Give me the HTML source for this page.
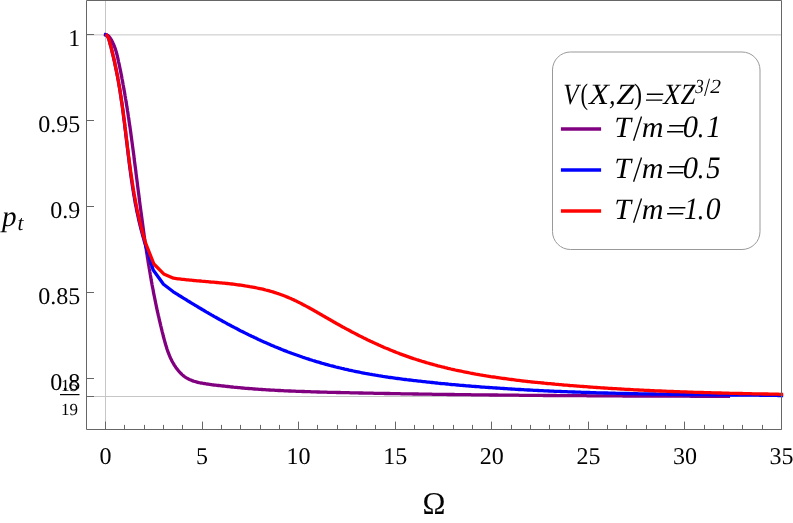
<!DOCTYPE html>
<html><head><meta charset="utf-8"><title>chart</title>
<style>html,body{margin:0;padding:0;background:#fff;}svg{display:block;}text{font-family:"Liberation Serif",serif;fill:#000;text-rendering:geometricPrecision;}.it{font-style:italic;}</style></head><body>
<svg width="793" height="523" viewBox="0 0 793 523">
<rect x="0" y="0" width="793" height="523" fill="#fff"/>
<g>
<g stroke="#c6c6c6" stroke-width="1" fill="none">
<line x1="86.5" x2="781.5" y1="34.9" y2="34.9"/>
<line x1="86.5" x2="781.5" y1="396.5" y2="396.5"/>
<line x1="105.5" x2="105.5" y1="0.5" y2="429.5"/>
</g>
<g fill="none" stroke-width="3.3" stroke-linejoin="round" stroke-linecap="square">
<path stroke="#800080" d="M105.6,34.6 L107.0,35.1 L108.3,35.8 L109.3,36.9 L110.2,38.1 L111.0,39.4 L111.8,40.7 L112.5,42.0 L113.1,43.4 L113.7,44.7 L114.3,46.1 L114.8,47.5 L115.3,48.9 L115.8,50.4 L116.2,51.8 L116.6,53.2 L117.0,54.7 L117.3,56.2 L117.7,57.6 L118.0,59.1 L118.3,60.6 L118.6,62.1 L119.0,63.5 L119.3,65.0 L119.6,66.5 L119.9,68.0 L120.2,69.4 L120.5,70.9 L120.8,72.4 L121.1,73.9 L121.4,75.3 L121.7,76.8 L121.9,78.3 L122.2,79.8 L122.5,81.2 L122.8,82.7 L123.0,84.2 L123.3,85.7 L123.6,87.1 L123.8,88.6 L124.1,90.1 L124.4,91.6 L124.6,93.1 L124.9,94.5 L125.1,96.0 L125.4,97.5 L125.6,99.0 L125.9,100.5 L126.1,101.9 L126.4,103.4 L126.6,104.9 L126.8,106.4 L127.1,107.8 L127.3,109.3 L127.5,110.8 L127.8,112.3 L128.0,113.8 L128.2,115.2 L128.4,116.7 L128.7,118.2 L128.9,119.7 L129.1,121.2 L129.3,122.7 L129.5,124.1 L129.7,125.6 L130.0,127.1 L130.2,128.6 L130.4,130.1 L130.6,131.5 L130.8,133.0 L131.0,134.5 L131.2,136.0 L131.4,137.5 L131.6,139.0 L131.8,140.4 L132.0,141.9 L132.2,143.4 L132.4,144.9 L132.6,146.4 L132.8,147.9 L133.0,149.4 L133.2,150.8 L133.4,152.3 L133.6,153.8 L133.8,155.3 L134.0,156.8 L134.1,158.3 L134.3,159.8 L134.5,161.2 L134.7,162.7 L134.9,164.2 L135.1,165.7 L135.3,167.2 L135.5,168.7 L135.7,170.2 L135.9,171.7 L136.0,173.1 L136.2,174.6 L136.4,176.1 L136.6,177.6 L136.8,179.1 L137.0,180.6 L137.2,182.1 L137.4,183.6 L137.5,185.1 L137.7,186.5 L137.9,188.0 L138.1,189.5 L138.3,191.0 L138.5,192.5 L138.7,194.0 L138.9,195.5 L139.1,197.0 L139.2,198.5 L139.4,199.9 L139.6,201.4 L139.8,202.9 L140.0,204.4 L140.2,205.9 L140.4,207.4 L140.6,208.9 L140.8,210.4 L141.0,211.9 L141.2,213.3 L141.4,214.8 L141.6,216.3 L141.8,217.8 L142.0,219.3 L142.2,220.8 L142.4,222.3 L142.6,223.8 L142.8,225.3 L143.0,226.7 L143.2,228.2 L143.4,229.7 L143.6,231.2 L143.8,232.7 L144.0,234.2 L144.2,235.7 L144.4,237.1 L144.6,238.6 L144.8,240.1 L145.1,241.6 L145.3,243.1 L145.5,244.6 L145.7,246.1 L145.9,247.5 L146.2,249.0 L146.4,250.5 L146.6,252.0 L146.8,253.5 L147.1,255.0 L147.3,256.4 L147.5,257.9 L147.8,259.4 L148.0,260.9 L148.2,262.4 L148.5,263.9 L148.7,265.3 L149.0,266.8 L149.2,268.3 L149.5,269.8 L149.7,271.2 L150.0,272.7 L150.2,274.2 L150.5,275.7 L150.7,277.2 L151.0,278.6 L151.2,280.1 L151.5,281.6 L151.8,283.1 L152.0,284.5 L152.3,286.0 L152.6,287.5 L152.9,289.0 L153.2,290.4 L153.4,291.9 L153.7,293.4 L154.0,294.8 L154.3,296.3 L154.6,297.8 L154.9,299.3 L155.2,300.7 L155.5,302.2 L155.8,303.7 L156.1,305.1 L156.4,306.6 L156.7,308.1 L157.0,309.5 L157.3,311.0 L157.7,312.5 L158.0,313.9 L158.3,315.4 L158.7,316.8 L159.0,318.3 L159.3,319.8 L159.7,321.2 L160.0,322.7 L160.4,324.1 L160.7,325.6 L161.1,327.1 L161.4,328.5 L161.8,330.0 L162.1,331.4 L162.5,332.9 L162.9,334.3 L163.2,335.8 L163.6,337.2 L164.0,338.7 L164.4,340.1 L164.8,341.6 L165.2,343.0 L165.6,344.5 L166.0,345.9 L166.5,347.3 L166.9,348.8 L167.4,350.2 L167.9,351.6 L168.4,353.0 L169.0,354.4 L169.5,355.8 L170.1,357.1 L170.7,358.5 L171.4,359.8 L172.1,361.2 L172.8,362.5 L173.6,363.8 L174.3,365.1 L175.2,366.4 L176.0,367.7 L177.0,368.9 L177.9,370.1 L178.9,371.3 L179.9,372.4 L181.0,373.5 L182.1,374.6 L183.2,375.6 L184.4,376.5 L185.6,377.3 L186.9,378.1 L188.1,378.8 L189.4,379.4 L190.8,380.0 L192.1,380.6 L193.5,381.1 L194.9,381.5 L196.3,381.9 L197.7,382.3 L199.2,382.7 L200.6,383.0 L202.1,383.2 L203.6,383.5 L205.1,383.7 L206.6,384.0 L208.1,384.2 L209.6,384.4 L211.1,384.6 L212.6,384.8 L214.1,385.0 L215.6,385.1 L217.1,385.3 L218.6,385.5 L220.1,385.7 L221.6,385.9 L223.1,386.0 L224.6,386.2 L226.1,386.4 L227.6,386.5 L229.1,386.7 L230.6,386.9 L232.1,387.0 L233.6,387.2 L235.1,387.3 L236.6,387.4 L238.1,387.6 L239.6,387.7 L241.1,387.9 L242.5,388.0 L244.0,388.1 L245.5,388.3 L247.0,388.4 L248.5,388.5 L250.0,388.6 L251.5,388.7 L253.0,388.9 L254.5,389.0 L256.0,389.1 L257.5,389.2 L259.0,389.3 L260.5,389.4 L262.0,389.5 L263.5,389.6 L265.0,389.7 L266.5,389.8 L268.0,389.9 L269.5,390.0 L271.0,390.1 L272.5,390.1 L274.0,390.2 L275.5,390.3 L277.0,390.4 L278.5,390.5 L280.0,390.5 L281.5,390.6 L283.0,390.7 L284.5,390.8 L286.0,390.8 L287.5,390.9 L289.0,391.0 L290.5,391.0 L292.0,391.1 L293.5,391.2 L295.0,391.2 L296.5,391.3 L298.0,391.3 L299.5,391.4 L300.9,391.4 L302.4,391.5 L303.9,391.5 L305.4,391.6 L306.9,391.7 L308.4,391.7 L309.9,391.7 L311.4,391.8 L312.9,391.8 L314.4,391.9 L315.9,391.9 L317.4,392.0 L318.9,392.0 L320.4,392.1 L321.9,392.1 L323.4,392.1 L324.9,392.2 L326.4,392.2 L327.9,392.3 L329.4,392.3 L330.9,392.3 L332.4,392.4 L333.9,392.4 L335.4,392.4 L336.9,392.5 L338.4,392.5 L339.9,392.5 L341.4,392.6 L342.9,392.6 L344.4,392.6 L345.9,392.7 L347.4,392.7 L348.9,392.7 L350.4,392.8 L351.9,392.8 L353.4,392.8 L354.9,392.9 L356.4,392.9 L357.9,392.9 L359.3,393.0 L360.8,393.0 L362.3,393.0 L363.8,393.1 L365.3,393.1 L366.8,393.1 L368.3,393.1 L369.8,393.2 L371.3,393.2 L372.8,393.2 L374.3,393.3 L375.8,393.3 L377.3,393.3 L378.8,393.4 L380.3,393.4 L381.8,393.4 L383.3,393.4 L384.8,393.5 L386.3,393.5 L387.8,393.5 L389.3,393.5 L390.8,393.6 L392.3,393.6 L393.8,393.6 L395.3,393.7 L396.8,393.7 L398.3,393.7 L399.8,393.7 L401.3,393.8 L402.8,393.8 L404.3,393.8 L405.8,393.8 L407.3,393.9 L408.8,393.9 L410.3,393.9 L411.8,393.9 L413.3,394.0 L414.8,394.0 L416.3,394.0 L417.8,394.0 L419.3,394.1 L420.8,394.1 L422.3,394.1 L423.8,394.1 L425.3,394.1 L426.8,394.2 L428.3,394.2 L429.8,394.2 L431.3,394.2 L432.8,394.3 L434.3,394.3 L435.8,394.3 L437.3,394.3 L438.8,394.3 L440.3,394.4 L441.8,394.4 L443.3,394.4 L444.8,394.4 L446.3,394.4 L447.8,394.5 L449.3,394.5 L450.8,394.5 L452.3,394.5 L453.8,394.5 L455.3,394.6 L456.8,394.6 L458.3,394.6 L459.8,394.6 L461.3,394.6 L462.8,394.7 L464.3,394.7 L465.8,394.7 L467.3,394.7 L468.8,394.7 L470.3,394.7 L471.8,394.8 L473.3,394.8 L474.8,394.8 L476.3,394.8 L477.8,394.8 L479.3,394.9 L480.8,394.9 L482.3,394.9 L483.8,394.9 L485.3,394.9 L486.8,394.9 L488.3,394.9 L489.8,395.0 L491.3,395.0 L492.8,395.0 L494.3,395.0 L495.8,395.0 L497.3,395.0 L498.8,395.1 L500.3,395.1 L501.8,395.1 L503.3,395.1 L504.8,395.1 L506.3,395.1 L507.8,395.1 L509.3,395.2 L510.8,395.2 L512.3,395.2 L513.8,395.2 L515.3,395.2 L516.8,395.2 L518.3,395.2 L519.8,395.3 L521.3,395.3 L522.8,395.3 L524.3,395.3 L525.8,395.3 L527.3,395.3 L528.8,395.3 L530.3,395.3 L531.8,395.4 L533.3,395.4 L534.8,395.4 L536.3,395.4 L537.8,395.4 L539.3,395.4 L540.8,395.4 L542.3,395.4 L543.8,395.5 L545.3,395.5 L546.8,395.5 L548.3,395.5 L549.8,395.5 L551.3,395.5 L552.8,395.5 L554.3,395.5 L555.8,395.5 L557.3,395.6 L558.8,395.6 L560.3,395.6 L561.8,395.6 L563.3,395.6 L564.8,395.6 L566.3,395.6 L567.8,395.6 L569.3,395.6 L570.8,395.7 L572.4,395.7 L573.9,395.7 L575.4,395.7 L576.9,395.7 L578.4,395.7 L579.9,395.7 L581.4,395.7 L582.9,395.7 L584.4,395.7 L585.9,395.7 L587.4,395.8 L588.9,395.8 L590.4,395.8 L591.9,395.8 L593.4,395.8 L594.9,395.8 L596.4,395.8 L597.9,395.8 L599.4,395.8 L600.9,395.8 L602.4,395.8 L603.9,395.9 L605.4,395.9 L606.9,395.9 L608.4,395.9 L609.9,395.9 L611.4,395.9 L612.9,395.9 L614.4,395.9 L615.9,395.9 L617.4,395.9 L618.9,395.9 L620.4,395.9 L621.9,395.9 L623.4,396.0 L624.9,396.0 L626.4,396.0 L627.9,396.0 L629.4,396.0 L630.9,396.0 L632.4,396.0 L633.9,396.0 L635.4,396.0 L636.9,396.0 L638.4,396.0 L639.9,396.0 L641.4,396.0 L642.9,396.0 L644.4,396.1 L645.9,396.1 L647.4,396.1 L648.9,396.1 L650.4,396.1 L651.9,396.1 L653.4,396.1 L654.9,396.1 L656.4,396.1 L657.9,396.1 L659.4,396.1 L660.9,396.1 L662.4,396.1 L663.9,396.1 L665.4,396.1 L666.9,396.2 L668.4,396.2 L669.9,396.2 L671.4,396.2 L672.9,396.2 L674.4,396.2 L675.9,396.2 L677.4,396.2 L678.9,396.2 L680.4,396.2 L681.9,396.2 L683.4,396.2 L684.9,396.2 L686.4,396.2 L687.9,396.2 L689.4,396.2 L690.9,396.3 L692.4,396.3 L693.9,396.3 L695.4,396.3 L696.9,396.3 L698.4,396.3 L699.9,396.3 L701.4,396.3 L702.9,396.3 L704.4,396.3 L705.9,396.3 L707.4,396.3 L708.9,396.3 L710.4,396.3 L711.9,396.3 L713.4,396.3 L714.9,396.3 L716.4,396.4 L717.9,396.4 L719.4,396.4 L720.9,396.4 L722.3,396.4 L723.8,396.4 L725.3,396.4 L726.8,396.4 L728.3,396.4 L728.4,396.4"/>
<path stroke="#0000ff" d="M105.6,34.8 L106.4,34.8 L106.8,35.4 L107.7,36.6 L108.4,37.9 L108.9,39.3 L109.3,40.8 L109.7,42.2 L110.1,43.7 L110.5,45.2 L110.9,46.6 L111.3,48.1 L111.6,49.6 L112.0,51.0 L112.3,52.5 L112.7,54.0 L113.0,55.4 L113.4,56.9 L113.7,58.4 L114.0,59.8 L114.4,61.3 L114.7,62.7 L115.0,64.2 L115.3,65.7 L115.6,67.1 L115.9,68.6 L116.2,70.0 L116.5,71.5 L116.8,73.0 L117.1,74.4 L117.4,75.9 L117.7,77.4 L117.9,78.8 L118.2,80.3 L118.5,81.8 L118.7,83.2 L119.0,84.7 L119.2,86.2 L119.5,87.6 L119.7,89.1 L120.0,90.6 L120.2,92.1 L120.4,93.5 L120.6,95.0 L120.9,96.5 L121.1,98.0 L121.3,99.5 L121.5,100.9 L121.7,102.4 L122.0,103.9 L122.2,105.4 L122.4,106.9 L122.6,108.4 L122.8,109.8 L123.0,111.3 L123.2,112.8 L123.4,114.3 L123.5,115.8 L123.7,117.3 L123.9,118.8 L124.1,120.3 L124.3,121.7 L124.5,123.2 L124.7,124.7 L124.8,126.2 L125.0,127.7 L125.2,129.2 L125.4,130.7 L125.6,132.2 L125.7,133.7 L125.9,135.2 L126.1,136.7 L126.3,138.2 L126.4,139.7 L126.6,141.1 L126.8,142.6 L127.0,144.1 L127.2,145.6 L127.3,147.1 L127.5,148.6 L127.7,150.1 L127.9,151.6 L128.0,153.1 L128.2,154.6 L128.4,156.1 L128.6,157.6 L128.8,159.1 L129.0,160.6 L129.1,162.0 L129.3,163.5 L129.5,165.0 L129.7,166.5 L129.9,168.0 L130.1,169.5 L130.3,171.0 L130.5,172.5 L130.7,174.0 L130.9,175.5 L131.1,176.9 L131.3,178.4 L131.5,179.9 L131.8,181.4 L132.0,182.9 L132.2,184.4 L132.4,185.9 L132.7,187.3 L132.9,188.8 L133.1,190.3 L133.4,191.8 L133.6,193.3 L133.8,194.7 L134.1,196.2 L134.4,197.7 L134.6,199.2 L134.9,200.6 L135.1,202.1 L135.4,203.6 L135.7,205.1 L136.0,206.5 L136.3,208.0 L136.5,209.5 L136.8,210.9 L137.1,212.4 L137.5,213.9 L137.8,215.3 L138.1,216.8 L138.4,218.3 L138.7,219.7 L139.1,221.2 L139.4,222.6 L139.8,224.1 L140.1,225.6 L140.5,227.0 L140.8,228.5 L141.2,229.9 L141.6,231.4 L142.0,232.8 L142.4,234.3 L142.7,235.7 L143.2,237.1 L143.6,238.6 L144.0,240.0 L144.4,241.5 L144.8,242.9 L145.0,243.4 L153.2,270.0 L163.5,284.3 L173.3,291.8 L174.6,292.6 L175.8,293.4 L177.1,294.2 L178.4,295.0 L179.6,295.8 L180.9,296.5 L182.2,297.3 L183.4,298.1 L184.7,298.9 L186.0,299.7 L187.3,300.5 L188.5,301.3 L189.8,302.0 L191.1,302.8 L192.4,303.6 L193.7,304.4 L195.0,305.2 L196.2,305.9 L197.5,306.7 L198.8,307.5 L200.1,308.2 L201.4,309.0 L202.7,309.8 L204.0,310.5 L205.3,311.3 L206.6,312.1 L207.9,312.8 L209.2,313.6 L210.5,314.3 L211.8,315.1 L213.1,315.8 L214.4,316.6 L215.7,317.3 L217.0,318.0 L218.3,318.8 L219.6,319.5 L221.0,320.2 L222.3,321.0 L223.6,321.7 L224.9,322.4 L226.2,323.1 L227.5,323.9 L228.9,324.6 L230.2,325.3 L231.5,326.0 L232.9,326.7 L234.2,327.4 L235.5,328.1 L236.9,328.8 L238.2,329.5 L239.5,330.2 L240.9,330.9 L242.2,331.5 L243.6,332.2 L244.9,332.9 L246.2,333.6 L247.6,334.2 L248.9,334.9 L250.3,335.5 L251.6,336.2 L253.0,336.8 L254.4,337.5 L255.7,338.1 L257.1,338.8 L258.4,339.4 L259.8,340.0 L261.2,340.7 L262.5,341.3 L263.9,341.9 L265.3,342.5 L266.6,343.1 L268.0,343.7 L269.4,344.3 L270.8,344.9 L272.1,345.5 L273.5,346.1 L274.9,346.7 L276.3,347.2 L277.7,347.8 L279.1,348.4 L280.5,348.9 L281.8,349.5 L283.2,350.1 L284.6,350.6 L286.0,351.1 L287.4,351.7 L288.8,352.2 L290.2,352.7 L291.6,353.3 L293.0,353.8 L294.4,354.3 L295.8,354.8 L297.3,355.3 L298.7,355.8 L300.1,356.3 L301.5,356.8 L302.9,357.3 L304.3,357.7 L305.8,358.2 L307.2,358.7 L308.6,359.1 L310.0,359.6 L311.4,360.0 L312.9,360.5 L314.3,360.9 L315.7,361.4 L317.2,361.8 L318.6,362.2 L320.0,362.6 L321.5,363.1 L322.9,363.5 L324.4,363.9 L325.8,364.3 L327.2,364.7 L328.7,365.1 L330.1,365.5 L331.6,365.8 L333.0,366.2 L334.5,366.6 L335.9,367.0 L337.4,367.3 L338.8,367.7 L340.3,368.0 L341.7,368.4 L343.2,368.7 L344.6,369.1 L346.1,369.4 L347.6,369.7 L349.0,370.1 L350.5,370.4 L351.9,370.7 L353.4,371.0 L354.9,371.3 L356.3,371.6 L357.8,371.9 L359.3,372.2 L360.7,372.5 L362.2,372.8 L363.7,373.1 L365.2,373.4 L366.6,373.6 L368.1,373.9 L369.6,374.2 L371.0,374.4 L372.5,374.7 L374.0,374.9 L375.5,375.2 L377.0,375.4 L378.4,375.7 L379.9,375.9 L381.4,376.1 L382.9,376.4 L384.4,376.6 L385.8,376.8 L387.3,377.0 L388.8,377.3 L390.3,377.5 L391.8,377.7 L393.3,377.9 L394.8,378.1 L396.2,378.3 L397.7,378.5 L399.2,378.7 L400.7,378.9 L402.2,379.1 L403.7,379.3 L405.2,379.5 L406.7,379.7 L408.2,379.8 L409.6,380.0 L411.1,380.2 L412.6,380.4 L414.1,380.6 L415.6,380.7 L417.1,380.9 L418.6,381.1 L420.1,381.2 L421.6,381.4 L423.1,381.6 L424.6,381.7 L426.1,381.9 L427.5,382.1 L429.0,382.2 L430.5,382.4 L432.0,382.5 L433.5,382.7 L435.0,382.9 L436.5,383.0 L438.0,383.2 L439.5,383.3 L441.0,383.5 L442.5,383.6 L444.0,383.7 L445.5,383.9 L447.0,384.0 L448.5,384.2 L450.0,384.3 L451.4,384.5 L452.9,384.6 L454.4,384.7 L455.9,384.9 L457.4,385.0 L458.9,385.1 L460.4,385.3 L461.9,385.4 L463.4,385.5 L464.9,385.6 L466.4,385.8 L467.9,385.9 L469.4,386.0 L470.9,386.1 L472.4,386.3 L473.9,386.4 L475.4,386.5 L476.9,386.6 L478.4,386.7 L479.9,386.8 L481.3,387.0 L482.8,387.1 L484.3,387.2 L485.8,387.3 L487.3,387.4 L488.8,387.5 L490.3,387.6 L491.8,387.7 L493.3,387.8 L494.8,387.9 L496.3,388.0 L497.8,388.1 L499.3,388.2 L500.8,388.3 L502.3,388.4 L503.8,388.5 L505.3,388.6 L506.8,388.7 L508.3,388.8 L509.8,388.9 L511.3,389.0 L512.8,389.1 L514.3,389.2 L515.8,389.3 L517.3,389.4 L518.8,389.5 L520.3,389.5 L521.8,389.6 L523.3,389.7 L524.8,389.8 L526.3,389.9 L527.8,390.0 L529.3,390.0 L530.8,390.1 L532.2,390.2 L533.7,390.3 L535.2,390.3 L536.7,390.4 L538.2,390.5 L539.7,390.6 L541.2,390.6 L542.7,390.7 L544.2,390.8 L545.7,390.8 L547.2,390.9 L548.7,391.0 L550.2,391.1 L551.7,391.1 L553.2,391.2 L554.7,391.3 L556.2,391.3 L557.7,391.4 L559.2,391.4 L560.7,391.5 L562.2,391.6 L563.7,391.6 L565.2,391.7 L566.7,391.7 L568.2,391.8 L569.7,391.9 L571.2,391.9 L572.7,392.0 L574.2,392.0 L575.7,392.1 L577.2,392.1 L578.7,392.2 L580.2,392.2 L581.7,392.3 L583.2,392.3 L584.7,392.4 L586.2,392.4 L587.7,392.5 L589.2,392.5 L590.7,392.6 L592.2,392.6 L593.7,392.7 L595.2,392.7 L596.7,392.8 L598.2,392.8 L599.7,392.8 L601.2,392.9 L602.7,392.9 L604.2,393.0 L605.7,393.0 L607.2,393.0 L608.7,393.1 L610.2,393.1 L611.7,393.2 L613.2,393.2 L614.7,393.2 L616.2,393.3 L617.7,393.3 L619.2,393.3 L620.7,393.4 L622.2,393.4 L623.7,393.4 L625.2,393.5 L626.7,393.5 L628.2,393.5 L629.7,393.6 L631.2,393.6 L632.7,393.6 L634.2,393.7 L635.7,393.7 L637.2,393.7 L638.7,393.8 L640.2,393.8 L641.7,393.8 L643.2,393.8 L644.7,393.9 L646.2,393.9 L647.7,393.9 L649.2,393.9 L650.7,394.0 L652.2,394.0 L653.7,394.0 L655.2,394.0 L656.7,394.1 L658.2,394.1 L659.7,394.1 L661.2,394.1 L662.7,394.2 L664.2,394.2 L665.7,394.2 L667.2,394.2 L668.7,394.3 L670.2,394.3 L671.7,394.3 L673.2,394.3 L674.7,394.3 L676.2,394.4 L677.7,394.4 L679.2,394.4 L680.7,394.4 L682.2,394.4 L683.7,394.5 L685.2,394.5 L686.7,394.5 L688.2,394.5 L689.7,394.5 L691.2,394.5 L692.7,394.6 L694.2,394.6 L695.7,394.6 L697.2,394.6 L698.7,394.6 L700.2,394.6 L701.7,394.7 L703.2,394.7 L704.7,394.7 L706.2,394.7 L707.7,394.7 L709.2,394.7 L710.7,394.8 L712.2,394.8 L713.7,394.8 L715.2,394.8 L716.7,394.8 L718.2,394.8 L719.7,394.9 L721.2,394.9 L722.7,394.9 L724.2,394.9 L725.7,394.9 L727.2,394.9 L728.7,394.9 L730.2,395.0 L731.7,395.0 L733.2,395.0 L734.7,395.0 L736.2,395.0 L737.7,395.0 L739.2,395.0 L740.7,395.1 L742.2,395.1 L743.7,395.1 L745.2,395.1 L746.7,395.1 L748.2,395.1 L749.7,395.2 L751.2,395.2 L752.7,395.2 L754.2,395.2 L755.7,395.2 L757.2,395.2 L758.7,395.2 L760.2,395.3 L761.7,395.3 L763.2,395.3 L764.7,395.3 L766.2,395.3 L767.7,395.3 L769.2,395.4 L770.7,395.4 L772.2,395.4 L773.7,395.4 L775.2,395.4 L776.7,395.4 L778.2,395.5 L779.7,395.5 L781.2,395.5 L781.5,395.5"/>
<path stroke="#ff0000" d="M106.8,35.4 L107.7,36.6 L108.4,37.9 L108.9,39.3 L109.3,40.8 L109.7,42.2 L110.1,43.7 L110.5,45.2 L110.9,46.6 L111.3,48.1 L111.6,49.6 L112.0,51.0 L112.3,52.5 L112.7,54.0 L113.0,55.4 L113.4,56.9 L113.7,58.3 L114.1,59.8 L114.4,61.3 L114.7,62.7 L115.0,64.2 L115.3,65.6 L115.6,67.1 L115.9,68.6 L116.2,70.0 L116.5,71.5 L116.8,73.0 L117.1,74.4 L117.4,75.9 L117.7,77.3 L117.9,78.8 L118.2,80.3 L118.5,81.8 L118.7,83.2 L119.0,84.7 L119.2,86.2 L119.5,87.6 L119.7,89.1 L120.0,90.6 L120.2,92.1 L120.4,93.5 L120.7,95.0 L120.9,96.5 L121.1,98.0 L121.3,99.5 L121.5,100.9 L121.8,102.4 L122.0,103.9 L122.2,105.4 L122.4,106.9 L122.6,108.4 L122.8,109.8 L123.0,111.3 L123.2,112.8 L123.4,114.3 L123.6,115.8 L123.8,117.3 L124.0,118.8 L124.2,120.3 L124.4,121.7 L124.6,123.2 L124.8,124.7 L124.9,126.2 L125.1,127.7 L125.3,129.2 L125.5,130.7 L125.7,132.2 L125.9,133.7 L126.0,135.2 L126.2,136.7 L126.4,138.2 L126.6,139.6 L126.8,141.1 L127.0,142.6 L127.1,144.1 L127.3,145.6 L127.5,147.1 L127.7,148.6 L127.9,150.1 L128.1,151.6 L128.3,153.1 L128.4,154.6 L128.6,156.1 L128.8,157.5 L129.0,159.0 L129.2,160.5 L129.4,162.0 L129.6,163.5 L129.8,165.0 L130.0,166.5 L130.2,168.0 L130.4,169.5 L130.6,171.0 L130.8,172.4 L131.0,173.9 L131.2,175.4 L131.5,176.9 L131.7,178.4 L131.9,179.9 L132.1,181.4 L132.3,182.8 L132.6,184.3 L132.8,185.8 L133.0,187.3 L133.3,188.8 L133.5,190.2 L133.8,191.7 L134.0,193.2 L134.3,194.7 L134.5,196.2 L134.8,197.6 L135.1,199.1 L135.3,200.6 L135.6,202.1 L135.9,203.5 L136.2,205.0 L136.4,206.5 L136.7,207.9 L137.0,209.4 L137.3,210.9 L137.6,212.3 L138.0,213.8 L138.3,215.3 L138.6,216.7 L138.9,218.2 L139.3,219.6 L139.6,221.1 L140.0,222.6 L140.3,224.0 L140.7,225.5 L141.0,226.9 L141.4,228.4 L141.8,229.8 L142.2,231.3 L142.5,232.7 L142.9,234.1 L143.3,235.6 L143.8,237.0 L144.2,238.5 L144.6,239.9 L145.0,241.3 L145.5,242.8 L145.7,243.4 L153.9,264.0 L163.7,273.9 L173.5,278.2 L175.0,278.4 L176.4,278.6 L177.9,278.8 L179.4,278.9 L180.8,279.1 L182.3,279.3 L183.8,279.4 L185.3,279.6 L186.8,279.8 L188.3,279.9 L189.7,280.1 L191.2,280.2 L192.7,280.3 L194.2,280.5 L195.7,280.6 L197.2,280.8 L198.7,280.9 L200.2,281.0 L201.7,281.2 L203.2,281.3 L204.7,281.4 L206.2,281.6 L207.7,281.7 L209.2,281.8 L210.7,282.0 L212.2,282.1 L213.7,282.2 L215.3,282.4 L216.8,282.5 L218.3,282.6 L219.8,282.8 L221.3,282.9 L222.8,283.1 L224.3,283.2 L225.8,283.4 L227.3,283.5 L228.8,283.7 L230.3,283.9 L231.8,284.0 L233.3,284.2 L234.8,284.4 L236.3,284.6 L237.8,284.8 L239.3,285.0 L240.8,285.2 L242.3,285.4 L243.7,285.6 L245.2,285.9 L246.7,286.1 L248.2,286.3 L249.7,286.6 L251.1,286.8 L252.6,287.1 L254.1,287.4 L255.5,287.7 L257.0,288.0 L258.5,288.3 L259.9,288.6 L261.4,288.9 L262.8,289.2 L264.3,289.6 L265.7,290.0 L267.2,290.3 L268.6,290.7 L270.0,291.1 L271.4,291.5 L272.9,291.9 L274.3,292.4 L275.7,292.8 L277.1,293.3 L278.5,293.7 L279.9,294.2 L281.3,294.7 L282.7,295.2 L284.1,295.8 L285.4,296.3 L286.8,296.9 L288.2,297.4 L289.5,298.0 L290.9,298.6 L292.2,299.2 L293.6,299.8 L294.9,300.5 L296.3,301.1 L297.6,301.8 L299.0,302.4 L300.3,303.1 L301.6,303.8 L302.9,304.5 L304.3,305.2 L305.6,305.9 L306.9,306.6 L308.2,307.3 L309.5,308.0 L310.9,308.8 L312.2,309.5 L313.5,310.2 L314.8,311.0 L316.1,311.7 L317.4,312.5 L318.7,313.2 L320.0,314.0 L321.3,314.7 L322.6,315.5 L323.9,316.2 L325.2,317.0 L326.6,317.8 L327.9,318.5 L329.2,319.3 L330.5,320.0 L331.8,320.8 L333.1,321.5 L334.4,322.3 L335.7,323.0 L337.0,323.8 L338.4,324.5 L339.7,325.2 L341.0,326.0 L342.3,326.7 L343.7,327.4 L345.0,328.2 L346.3,328.9 L347.6,329.6 L349.0,330.3 L350.3,331.0 L351.6,331.7 L353.0,332.4 L354.3,333.1 L355.6,333.8 L357.0,334.5 L358.3,335.2 L359.7,335.9 L361.0,336.6 L362.4,337.2 L363.7,337.9 L365.1,338.6 L366.4,339.2 L367.8,339.9 L369.1,340.5 L370.5,341.2 L371.8,341.8 L373.2,342.5 L374.5,343.1 L375.9,343.7 L377.3,344.3 L378.6,345.0 L380.0,345.6 L381.4,346.2 L382.8,346.8 L384.1,347.4 L385.5,348.0 L386.9,348.5 L388.3,349.1 L389.7,349.7 L391.0,350.3 L392.4,350.8 L393.8,351.4 L395.2,351.9 L396.6,352.5 L398.0,353.0 L399.4,353.6 L400.8,354.1 L402.2,354.6 L403.6,355.1 L405.0,355.6 L406.4,356.1 L407.8,356.6 L409.2,357.1 L410.6,357.6 L412.0,358.1 L413.5,358.6 L414.9,359.0 L416.3,359.5 L417.7,359.9 L419.1,360.4 L420.6,360.8 L422.0,361.3 L423.4,361.7 L424.9,362.1 L426.3,362.6 L427.7,363.0 L429.2,363.4 L430.6,363.8 L432.0,364.2 L433.5,364.6 L434.9,365.0 L436.4,365.4 L437.8,365.8 L439.2,366.1 L440.7,366.5 L442.1,366.9 L443.6,367.2 L445.0,367.6 L446.5,367.9 L447.9,368.3 L449.4,368.6 L450.9,369.0 L452.3,369.3 L453.8,369.6 L455.2,370.0 L456.7,370.3 L458.2,370.6 L459.6,370.9 L461.1,371.2 L462.6,371.5 L464.0,371.8 L465.5,372.1 L467.0,372.4 L468.4,372.7 L469.9,373.0 L471.4,373.3 L472.9,373.5 L474.3,373.8 L475.8,374.1 L477.3,374.3 L478.8,374.6 L480.2,374.9 L481.7,375.1 L483.2,375.4 L484.7,375.6 L486.2,375.9 L487.6,376.1 L489.1,376.3 L490.6,376.6 L492.1,376.8 L493.6,377.0 L495.1,377.2 L496.6,377.5 L498.0,377.7 L499.5,377.9 L501.0,378.1 L502.5,378.3 L504.0,378.5 L505.5,378.7 L507.0,378.9 L508.5,379.1 L510.0,379.3 L511.5,379.5 L513.0,379.7 L514.5,379.9 L515.9,380.1 L517.4,380.3 L518.9,380.4 L520.4,380.6 L521.9,380.8 L523.4,381.0 L524.9,381.1 L526.4,381.3 L527.9,381.5 L529.4,381.6 L530.9,381.8 L532.4,382.0 L533.9,382.1 L535.4,382.3 L536.9,382.4 L538.4,382.6 L539.9,382.7 L541.4,382.9 L542.9,383.0 L544.4,383.2 L545.9,383.3 L547.4,383.5 L548.9,383.6 L550.4,383.7 L551.9,383.9 L553.4,384.0 L554.9,384.2 L556.4,384.3 L557.9,384.4 L559.4,384.6 L560.9,384.7 L562.4,384.8 L563.8,385.0 L565.3,385.1 L566.8,385.2 L568.3,385.3 L569.8,385.5 L571.3,385.6 L572.8,385.7 L574.3,385.8 L575.8,385.9 L577.3,386.1 L578.8,386.2 L580.3,386.3 L581.8,386.4 L583.3,386.5 L584.8,386.6 L586.3,386.7 L587.8,386.9 L589.3,387.0 L590.8,387.1 L592.3,387.2 L593.8,387.3 L595.3,387.4 L596.8,387.5 L598.3,387.6 L599.7,387.7 L601.2,387.8 L602.7,387.9 L604.2,388.0 L605.7,388.1 L607.2,388.2 L608.7,388.3 L610.2,388.4 L611.7,388.5 L613.2,388.6 L614.7,388.7 L616.2,388.7 L617.7,388.8 L619.2,388.9 L620.7,389.0 L622.2,389.1 L623.7,389.2 L625.2,389.3 L626.7,389.3 L628.2,389.4 L629.6,389.5 L631.1,389.6 L632.6,389.7 L634.1,389.8 L635.6,389.8 L637.1,389.9 L638.6,390.0 L640.1,390.1 L641.6,390.1 L643.1,390.2 L644.6,390.3 L646.1,390.4 L647.6,390.4 L649.1,390.5 L650.6,390.6 L652.1,390.6 L653.6,390.7 L655.1,390.8 L656.6,390.8 L658.1,390.9 L659.6,391.0 L661.0,391.0 L662.5,391.1 L664.0,391.2 L665.5,391.2 L667.0,391.3 L668.5,391.3 L670.0,391.4 L671.5,391.5 L673.0,391.5 L674.5,391.6 L676.0,391.6 L677.5,391.7 L679.0,391.7 L680.5,391.8 L682.0,391.8 L683.5,391.9 L685.0,391.9 L686.5,392.0 L688.0,392.1 L689.5,392.1 L691.0,392.2 L692.5,392.2 L694.0,392.3 L695.5,392.3 L697.0,392.3 L698.5,392.4 L699.9,392.4 L701.4,392.5 L702.9,392.5 L704.4,392.6 L705.9,392.6 L707.4,392.7 L708.9,392.7 L710.4,392.7 L711.9,392.8 L713.4,392.8 L714.9,392.9 L716.4,392.9 L717.9,393.0 L719.4,393.0 L720.9,393.0 L722.4,393.1 L723.9,393.1 L725.4,393.1 L726.9,393.2 L728.4,393.2 L729.9,393.3 L731.4,393.3 L732.9,393.3 L734.4,393.4 L735.9,393.4 L737.4,393.4 L738.9,393.5 L740.4,393.5 L741.9,393.5 L743.4,393.6 L744.9,393.6 L746.4,393.6 L747.9,393.7 L749.4,393.7 L750.9,393.7 L752.4,393.8 L753.9,393.8 L755.4,393.8 L756.9,393.8 L758.4,393.9 L759.9,393.9 L761.4,393.9 L763.0,394.0 L764.5,394.0 L766.0,394.0 L767.5,394.0 L769.0,394.1 L770.5,394.1 L772.0,394.1 L773.5,394.2 L775.0,394.2 L776.5,394.2 L778.0,394.2 L779.5,394.3 L781.0,394.3 L781.5,394.3"/>
</g>
<g stroke="#666666" stroke-width="1" fill="none">
<path d="M86.5,429.5 L86.5,0.5 L781.5,0.5 L781.5,429.5 Z"/>
<line x1="105.5" x2="105.5" y1="429.5" y2="421.6"/>
<line x1="124.5" x2="124.5" y1="429.5" y2="424.9"/>
<line x1="144.5" x2="144.5" y1="429.5" y2="424.9"/>
<line x1="163.5" x2="163.5" y1="429.5" y2="424.9"/>
<line x1="182.5" x2="182.5" y1="429.5" y2="424.9"/>
<line x1="202.5" x2="202.5" y1="429.5" y2="421.6"/>
<line x1="221.5" x2="221.5" y1="429.5" y2="424.9"/>
<line x1="240.5" x2="240.5" y1="429.5" y2="424.9"/>
<line x1="260.5" x2="260.5" y1="429.5" y2="424.9"/>
<line x1="279.5" x2="279.5" y1="429.5" y2="424.9"/>
<line x1="298.5" x2="298.5" y1="429.5" y2="421.6"/>
<line x1="317.5" x2="317.5" y1="429.5" y2="424.9"/>
<line x1="337.5" x2="337.5" y1="429.5" y2="424.9"/>
<line x1="356.5" x2="356.5" y1="429.5" y2="424.9"/>
<line x1="375.5" x2="375.5" y1="429.5" y2="424.9"/>
<line x1="395.5" x2="395.5" y1="429.5" y2="421.6"/>
<line x1="414.5" x2="414.5" y1="429.5" y2="424.9"/>
<line x1="433.5" x2="433.5" y1="429.5" y2="424.9"/>
<line x1="453.5" x2="453.5" y1="429.5" y2="424.9"/>
<line x1="472.5" x2="472.5" y1="429.5" y2="424.9"/>
<line x1="491.5" x2="491.5" y1="429.5" y2="421.6"/>
<line x1="511.5" x2="511.5" y1="429.5" y2="424.9"/>
<line x1="530.5" x2="530.5" y1="429.5" y2="424.9"/>
<line x1="549.5" x2="549.5" y1="429.5" y2="424.9"/>
<line x1="569.5" x2="569.5" y1="429.5" y2="424.9"/>
<line x1="588.5" x2="588.5" y1="429.5" y2="421.6"/>
<line x1="607.5" x2="607.5" y1="429.5" y2="424.9"/>
<line x1="626.5" x2="626.5" y1="429.5" y2="424.9"/>
<line x1="646.5" x2="646.5" y1="429.5" y2="424.9"/>
<line x1="665.5" x2="665.5" y1="429.5" y2="424.9"/>
<line x1="684.5" x2="684.5" y1="429.5" y2="421.6"/>
<line x1="704.5" x2="704.5" y1="429.5" y2="424.9"/>
<line x1="723.5" x2="723.5" y1="429.5" y2="424.9"/>
<line x1="742.5" x2="742.5" y1="429.5" y2="424.9"/>
<line x1="762.5" x2="762.5" y1="429.5" y2="424.9"/>
<line x1="781.5" x2="781.5" y1="429.5" y2="421.6"/>
<line x1="86.5" x2="94.0" y1="34.5" y2="34.5"/>
<line x1="86.5" x2="94.0" y1="120.5" y2="120.5"/>
<line x1="86.5" x2="94.0" y1="206.5" y2="206.5"/>
<line x1="86.5" x2="94.0" y1="292.5" y2="292.5"/>
<line x1="86.5" x2="94.0" y1="378.5" y2="378.5"/>
<line x1="86.5" x2="94.0" y1="396.5" y2="396.5"/>
</g>
<g style="will-change:transform;opacity:0.99">
<g font-size="24">
<text x="105.5" y="463.6" text-anchor="middle">0</text>
<text x="202.1" y="463.6" text-anchor="middle">5</text>
<text x="298.6" y="463.6" text-anchor="middle">10</text>
<text x="395.2" y="463.6" text-anchor="middle">15</text>
<text x="491.8" y="463.6" text-anchor="middle">20</text>
<text x="588.4" y="463.6" text-anchor="middle">25</text>
<text x="684.9" y="463.6" text-anchor="middle">30</text>
<text x="781.5" y="463.6" text-anchor="middle">35</text>
<text x="80.2" y="46.1" text-anchor="end">1</text>
<text x="80.2" y="132.1" text-anchor="end">0.95</text>
<text x="80.2" y="218.1" text-anchor="end">0.9</text>
<text x="80.2" y="304.1" text-anchor="end">0.85</text>
<text x="80.2" y="390.1" text-anchor="end">0.8</text>
</g>
<g font-size="17">
<text x="69.5" y="390.5" text-anchor="middle">15</text>
<text x="69.5" y="414.5" text-anchor="middle">19</text>
</g>
<line x1="60" x2="79.5" y1="394.6" y2="394.6" stroke="#000" stroke-width="1.2"/>
<text class="it" x="2.0" y="226.1" font-size="29.2">p</text>
<text class="it" x="17.5" y="230.1" font-size="21.5">t</text>
<text transform="translate(434,513.75) scale(1.03,1.052)" x="0" y="0" font-size="30" text-anchor="middle">&#937;</text>
</g>
<rect x="552.5" y="52" width="207.5" height="197.5" rx="18" ry="18" fill="#fff" stroke="#999" stroke-width="1"/>
<g style="will-change:transform;opacity:0.99">
<text class="it" transform="translate(563.18,103.80) scale(0.851,1.000)" font-size="29.6">V</text>
<text transform="translate(580.61,103.70) scale(0.763,1.000)" font-size="29.6">(</text>
<text class="it" transform="translate(588.89,103.80) scale(1.109,1.000)" font-size="29.6">X</text>
<text class="it" transform="translate(609.04,103.80) scale(0.879,1.000)" font-size="29.6">,</text>
<text class="it" transform="translate(616.30,103.80) scale(1.113,1.000)" font-size="29.6">Z</text>
<text transform="translate(633.92,103.70) scale(0.816,1.000)" font-size="29.6">)</text>
<path d="M646.90,94.20 L663.20,94.20 M646.00,100.10 L662.30,100.10" stroke="#000" stroke-width="1.4" fill="none"/>
<text class="it" transform="translate(663.24,103.80) scale(0.954,1.000)" font-size="29.6">X</text>
<text class="it" transform="translate(680.47,103.80) scale(0.905,1.000)" font-size="29.6">Z</text>
<text class="it" transform="translate(695.36,93.00) scale(0.850,1.000)" font-size="20">3</text>
<path d="M704.60,96.00 L709.50,78.70" stroke="#000" stroke-width="1.0" fill="none"/>
<text class="it" transform="translate(710.29,93.00) scale(1.078,1.000)" font-size="20">2</text>
<line x1="560.9" x2="601.1" y1="129.0" y2="129.0" stroke="#800080" stroke-width="3.3"/>
<text class="it" transform="translate(614.22,136.50) scale(1.020,1.000)" font-size="29.6">T</text>
<path d="M633.60,140.70 L641.50,116.50" stroke="#000" stroke-width="1.35" fill="none"/>
<text class="it" transform="translate(641.81,136.50) scale(1.018,1.000)" font-size="29.6">m</text>
<path d="M669.20,125.70 L685.40,125.70 M667.10,131.70 L683.30,131.70" stroke="#000" stroke-width="1.35" fill="none"/>
<text class="it" transform="translate(682.72,136.50) scale(1.011,1.035)" font-size="30.200000000000003">0</text>
<text class="it" transform="translate(697.76,136.50) scale(0.886,1.000)" font-size="29.6">.</text>
<text class="it" transform="translate(706.34,136.50) scale(0.983,1.035)" font-size="30.200000000000003">1</text>
<line x1="560.9" x2="601.1" y1="170.0" y2="170.0" stroke="#0000ff" stroke-width="3.3"/>
<text class="it" transform="translate(614.22,177.50) scale(1.020,1.000)" font-size="29.6">T</text>
<path d="M633.60,181.70 L641.50,157.50" stroke="#000" stroke-width="1.35" fill="none"/>
<text class="it" transform="translate(641.81,177.50) scale(1.018,1.000)" font-size="29.6">m</text>
<path d="M669.20,166.70 L685.40,166.70 M667.10,172.70 L683.30,172.70" stroke="#000" stroke-width="1.35" fill="none"/>
<text class="it" transform="translate(682.72,177.50) scale(1.011,1.035)" font-size="30.200000000000003">0</text>
<text class="it" transform="translate(697.76,177.50) scale(0.886,1.000)" font-size="29.6">.</text>
<text class="it" transform="translate(706.15,177.50) scale(0.947,1.035)" font-size="30.200000000000003">5</text>
<line x1="560.9" x2="601.1" y1="211.0" y2="211.0" stroke="#ff0000" stroke-width="3.3"/>
<text class="it" transform="translate(614.22,218.50) scale(1.020,1.000)" font-size="29.6">T</text>
<path d="M633.60,222.70 L641.50,198.50" stroke="#000" stroke-width="1.35" fill="none"/>
<text class="it" transform="translate(641.81,218.50) scale(1.018,1.000)" font-size="29.6">m</text>
<path d="M669.20,207.70 L685.40,207.70 M667.10,213.70 L683.30,213.70" stroke="#000" stroke-width="1.35" fill="none"/>
<text class="it" transform="translate(684.07,218.50) scale(0.956,1.035)" font-size="30.200000000000003">1</text>
<text class="it" transform="translate(697.76,218.50) scale(0.886,1.000)" font-size="29.6">.</text>
<text class="it" transform="translate(705.86,218.50) scale(0.981,1.035)" font-size="30.200000000000003">0</text>
</g>
</svg></body></html>
